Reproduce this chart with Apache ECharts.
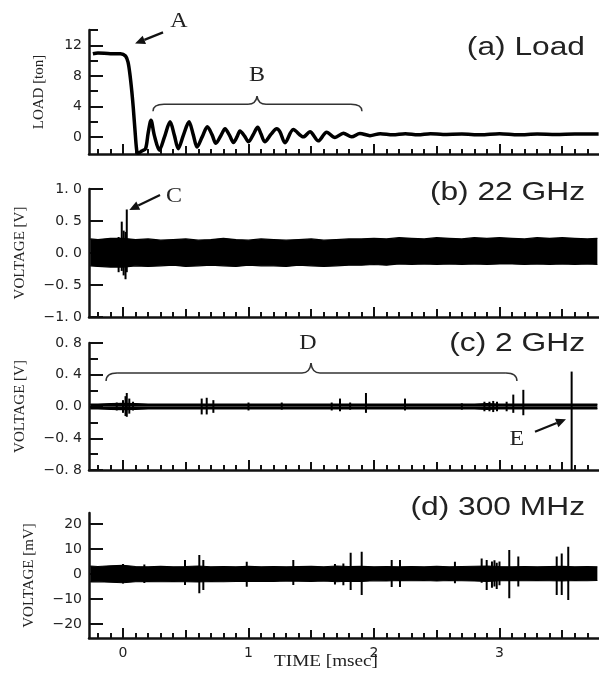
<!DOCTYPE html>
<html>
<head>
<meta charset="utf-8">
<script src="https://cdn.jsdelivr.net/npm/echarts@6/dist/echarts.min.js"></script>
<style>
  html, body { margin: 0; padding: 0; background: #fff; }
  #chart { width: 599px; height: 678px; }
</style>
</head>
<body>
<div id="chart"></div>
<script>
// time axis (msec)
const X_MIN = -0.271;
const X_MAX = 3.793;
const xMajorTicks = [0, 1, 2, 3];
const xHalfTicks = [0.5, 1.5, 2.5, 3.5];

// (a) load [ton]
const loadT = [-0.24, -0.2, -0.1, -0.02, 0.02, 0.04, 0.056, 0.07, 0.082, 0.095, 0.109, 0.12, 0.15, 0.18, 0.2, 0.223, 0.25, 0.29, 0.33, 0.375, 0.41, 0.44, 0.48, 0.526, 0.56, 0.59, 0.63, 0.672, 0.71, 0.74, 0.78, 0.813, 0.85, 0.88, 0.91, 0.932, 0.97, 1.0, 1.04, 1.073, 1.1, 1.13, 1.18, 1.225, 1.251, 1.291, 1.357, 1.437, 1.49, 1.556, 1.623, 1.689, 1.756, 1.822, 1.888, 1.968, 2.05, 2.15, 2.25, 2.35, 2.45, 2.55, 2.7, 2.85, 3.0, 3.15, 3.3, 3.45, 3.6, 3.79];
const loadV = [10.9, 11.0, 10.9, 10.9, 10.6, 9.8, 8.1, 6.0, 3.8, 1.0, -1.7, -2.1, -1.8, -1.5, 0.5, 2.2, 0.2, -1.7, 0.0, 2.0, 0.2, -1.5, 0.2, 2.0, 0.3, -1.3, 0.0, 1.35, 0.3, -0.8, 0.2, 1.1, 0.2, -0.7, 0.1, 0.8, 0.1, -0.6, 0.4, 1.3, 0.4, -0.6, 0.4, 1.1, 0.7, -0.74, 1.0, 0.04, 0.7, -0.48, 0.65, -0.05, 0.52, 0.04, 0.48, 0.2, 0.45, 0.3, 0.45, 0.3, 0.45, 0.35, 0.4, 0.3, 0.45, 0.3, 0.4, 0.35, 0.4, 0.4];

// noise-band envelopes (shared time points)
const envT = [-0.26, -0.2, -0.1, 0, 0.1, 0.2, 0.3, 0.4, 0.5, 0.6, 0.7, 0.8, 0.9, 1.0, 1.1, 1.2, 1.3, 1.4, 1.5, 1.6, 1.7, 1.8, 1.9, 2.0, 2.1, 2.2, 2.3, 2.4, 2.5, 2.6, 2.7, 2.8, 2.9, 3.0, 3.1, 3.2, 3.3, 3.4, 3.5, 3.6, 3.7, 3.78];

// (b) 22 GHz [V]
const ghz22Hi = [0.22, 0.21, 0.23, 0.23, 0.21, 0.22, 0.2, 0.21, 0.22, 0.2, 0.21, 0.23, 0.21, 0.2, 0.22, 0.21, 0.2, 0.21, 0.22, 0.2, 0.21, 0.22, 0.22, 0.23, 0.22, 0.24, 0.23, 0.22, 0.24, 0.23, 0.22, 0.24, 0.23, 0.24, 0.23, 0.22, 0.24, 0.23, 0.24, 0.23, 0.22, 0.23];
const ghz22Lo = [-0.2, -0.21, -0.22, -0.22, -0.2, -0.21, -0.2, -0.19, -0.21, -0.2, -0.19, -0.2, -0.21, -0.19, -0.2, -0.2, -0.21, -0.19, -0.2, -0.21, -0.2, -0.19, -0.19, -0.18, -0.19, -0.17, -0.18, -0.17, -0.18, -0.17, -0.18, -0.17, -0.18, -0.17, -0.17, -0.18, -0.17, -0.18, -0.17, -0.18, -0.17, -0.18];
const ghz22SpikeT = [-0.035, -0.01, 0.005, 0.02, 0.03];
const ghz22SpikeHi = [0.25, 0.49, 0.35, 0.33, 0.68];
const ghz22SpikeLo = [-0.3, -0.28, -0.35, -0.41, -0.3];

// (c) 2 GHz [V]
const ghz2Hi = [0.03, 0.03, 0.035, 0.04, 0.035, 0.03, 0.03, 0.03, 0.03, 0.03, 0.03, 0.03, 0.03, 0.03, 0.03, 0.03, 0.03, 0.03, 0.03, 0.03, 0.03, 0.03, 0.03, 0.03, 0.03, 0.03, 0.03, 0.03, 0.03, 0.03, 0.03, 0.03, 0.035, 0.03, 0.03, 0.03, 0.03, 0.03, 0.03, 0.03, 0.03, 0.03];
const ghz2Lo = [-0.03, -0.03, -0.035, -0.04, -0.035, -0.03, -0.03, -0.03, -0.03, -0.03, -0.03, -0.03, -0.03, -0.03, -0.03, -0.03, -0.03, -0.03, -0.03, -0.03, -0.03, -0.03, -0.03, -0.03, -0.03, -0.03, -0.03, -0.03, -0.03, -0.03, -0.03, -0.03, -0.035, -0.03, -0.03, -0.03, -0.03, -0.03, -0.03, -0.03, -0.03, -0.03];
const ghz2SpikeT = [-0.05, 0.0, 0.02, 0.03, 0.05, 0.08, 0.627, 0.667, 0.72, 1.0, 1.265, 1.663, 1.729, 1.81, 1.936, 2.247, 2.7, 2.88, 2.92, 2.95, 2.98, 3.057, 3.11, 3.19, 3.575];
const ghz2SpikeHi = [0.05, 0.08, 0.13, 0.17, 0.1, 0.06, 0.1, 0.11, 0.08, 0.05, 0.05, 0.05, 0.1, 0.05, 0.17, 0.1, 0.04, 0.06, 0.06, 0.07, 0.06, 0.06, 0.15, 0.21, 0.44];
const ghz2SpikeLo = [-0.05, -0.08, -0.12, -0.13, -0.09, -0.05, -0.1, -0.1, -0.08, -0.05, -0.04, -0.05, -0.06, -0.04, -0.08, -0.05, -0.04, -0.06, -0.06, -0.07, -0.06, -0.06, -0.08, -0.11, -0.8];

// (d) 300 MHz [mV]
const mhzHi = [3.2, 3.0, 3.3, 3.5, 3.0, 2.9, 3.1, 2.9, 3.0, 3.2, 2.9, 3.0, 2.9, 3.1, 2.9, 3.0, 2.9, 3.0, 3.1, 2.9, 3.2, 3.0, 3.1, 2.9, 3.0, 2.9, 3.0, 2.9, 3.1, 2.9, 3.0, 3.1, 3.2, 3.0, 2.9, 3.0, 2.9, 3.0, 3.1, 2.9, 3.0, 2.9];
const mhzLo = [-3.2, -3.1, -3.3, -3.5, -3.1, -3.0, -3.1, -3.0, -3.1, -3.2, -3.0, -3.1, -3.0, -3.0, -2.9, -3.0, -2.8, -2.9, -3.0, -2.8, -3.1, -2.9, -3.0, -2.7, -2.8, -2.6, -2.7, -2.6, -2.8, -2.6, -2.7, -2.8, -3.0, -2.7, -2.6, -2.7, -2.6, -2.7, -2.8, -2.6, -2.7, -2.6];
const mhzSpikeT = [0.0, 0.17, 0.494, 0.608, 0.64, 0.986, 1.357, 1.689, 1.756, 1.814, 1.902, 2.141, 2.207, 2.645, 2.858, 2.898, 2.94, 2.96, 2.978, 3.0, 3.078, 3.15, 3.456, 3.496, 3.548];
const mhzSpikeHi = [4, 3.8, 5.6, 7.6, 5.6, 4.9, 5.6, 4, 4.2, 8.5, 8.9, 5.6, 5.6, 4.9, 6.2, 5.6, 5, 5.5, 4.5, 5, 9.6, 7, 7, 8.2, 10.9];
const mhzSpikeLo = [-3.8, -3.6, -4.4, -7.7, -6.4, -5.1, -4.4, -4.2, -4.5, -6.4, -8.4, -5.2, -5.2, -3.7, -3.5, -6.4, -5.5, -5, -6, -4.5, -9.7, -5, -8.4, -8.4, -10.4];

// y-axis ticks per panel
const yLongTicks = [[0, 4, 8, 12], [-1, -0.5, 0, 0.5, 1], [-0.8, -0.4, 0, 0.4, 0.8], [-20, -10, 0, 10, 20]];
const yShortTicks = [[2, 6, 10, 14], [], [-0.6, -0.2, 0.2, 0.6], []];
const yRanges = [[-2.2, 14], [-1, 1], [-0.8, 0.8], [-25.6, 24.4]];
const yNames = ["LOAD [ton]", "VOLTAGE [V]", "VOLTAGE [V]", "VOLTAGE [mV]"];
const panelTitles = ["(a) Load", "(b) 22 GHz", "(c) 2 GHz", "(d) 300 MHz"];

const xMinorTicks = [];
for (let i = -2; i <= 37; i++) if (i % 5 !== 0) xMinorTicks.push(i / 10);

const zip = (...cols) => cols[0].map((_, i) => cols.map((c) => c[i]));
const INK = "#111";
const LABEL_FONT = "DejaVu Sans";
const SERIF = "Liberation Serif";

const grids = [
  { left: 89, right: 0, top: 30, height: 124 },
  { left: 89, right: 0, top: 189, height: 128 },
  { left: 89, right: 0, top: 343, height: 127 },
  { left: 89, right: 0, top: 513, height: 125 },
];
const nameGaps = [42, 61, 61, 52];

const fmtY = [
  (v) => String(v),
  (v) => (v < 0 ? "\u2212" : "") + Math.abs(v).toFixed(1).replace(".", ". "),
  (v) => (v < 0 ? "\u2212" : "") + Math.abs(v).toFixed(1).replace(".", ". "),
  (v) => (v < 0 ? "\u2212" : "") + Math.abs(v),
];

const xAxes = [];
const yAxes = [];
grids.forEach((g, gi) => {
  const base = { gridIndex: gi, type: "value", position: "bottom", min: X_MIN, max: X_MAX, splitLine: { show: false } };
  xAxes.push({
    ...base,
    axisLine: { show: true, onZero: false, lineStyle: { color: INK, width: 2.5 } },
    axisTick: { inside: true, length: 10, customValues: xMajorTicks, lineStyle: { color: INK, width: 2 } },
    axisLabel: { show: gi === 3, customValues: xMajorTicks, margin: 8, color: "#222", fontFamily: LABEL_FONT, fontSize: 14 },
  });
  xAxes.push({
    ...base,
    axisLine: { show: false, onZero: false },
    axisTick: { inside: true, length: 8, customValues: xHalfTicks, lineStyle: { color: INK, width: 2 } },
    axisLabel: { show: false },
  });
  xAxes.push({
    ...base,
    axisLine: { show: false, onZero: false },
    axisTick: { inside: true, length: 5, customValues: xMinorTicks, lineStyle: { color: INK, width: 2 } },
    axisLabel: { show: false },
  });
  const ybase = { gridIndex: gi, type: "value", position: "left", min: yRanges[gi][0], max: yRanges[gi][1], splitLine: { show: false } };
  yAxes.push({
    ...ybase,
    name: yNames[gi],
    nameLocation: "middle",
    nameGap: nameGaps[gi],
    nameTextStyle: { fontFamily: SERIF, fontSize: 15, color: "#222" },
    axisLine: { show: true, onZero: false, lineStyle: { color: INK, width: 2.5 } },
    axisTick: { inside: true, length: 14, customValues: yLongTicks[gi], lineStyle: { color: INK, width: 2 } },
    axisLabel: { customValues: yLongTicks[gi], formatter: fmtY[gi], margin: 7, color: "#222", fontFamily: LABEL_FONT, fontSize: 14 },
  });
  yAxes.push({
    ...ybase,
    axisLine: { show: false, onZero: false },
    axisTick: { show: yShortTicks[gi].length > 0, inside: true, length: 9, customValues: yShortTicks[gi].length ? yShortTicks[gi] : [0], lineStyle: { color: INK, width: 2 } },
    axisLabel: { show: false },
  });
});

function bandSeries(gi, hi, lo) {
  return [hi, lo].map((vals) => ({
    type: "line",
    xAxisIndex: gi * 3,
    yAxisIndex: gi * 2,
    data: zip(envT, vals),
    symbol: "none",
    lineStyle: { color: "#000", width: 1.2 },
    areaStyle: { color: "#000", opacity: 1 },
    silent: true,
  }));
}

function spikeSeries(gi, t, lo, hi) {
  return {
    type: "custom",
    xAxisIndex: gi * 3,
    yAxisIndex: gi * 2,
    data: zip(t, lo, hi),
    encode: { x: 0, y: [1, 2] },
    renderItem: (params, api) => {
      const a = api.coord([api.value(0), api.value(1)]);
      const b = api.coord([api.value(0), api.value(2)]);
      return {
        type: "line",
        shape: { x1: a[0], y1: a[1], x2: b[0], y2: b[1] },
        style: { stroke: "#000", lineWidth: 2 },
      };
    },
    z: 3,
  };
}

const series = [
  {
    type: "line",
    xAxisIndex: 0,
    yAxisIndex: 0,
    data: zip(loadT, loadV),
    symbol: "none",
    smooth: 0.3,
    lineStyle: { color: "#000", width: 3.5 },
  },
  ...bandSeries(1, ghz22Hi, ghz22Lo),
  spikeSeries(1, ghz22SpikeT, ghz22SpikeLo, ghz22SpikeHi),
  ...bandSeries(2, ghz2Hi, ghz2Lo),
  spikeSeries(2, ghz2SpikeT, ghz2SpikeLo, ghz2SpikeHi),
  ...bandSeries(3, mhzHi, mhzLo),
  spikeSeries(3, mhzSpikeT, mhzSpikeLo, mhzSpikeHi),
];

const chart = echarts.init(document.getElementById("chart"), null, { renderer: "canvas" });
chart.setOption({
  animation: false,
  backgroundColor: "#fff",
  grid: grids,
  xAxis: xAxes,
  yAxis: yAxes,
  series,
});

// annotations, in data coordinates of each panel
const labels = [
  { gi: 0, text: "A", at: [0.446, 15.03] },
  { gi: 0, text: "B", at: [1.068, 8.08] },
  { gi: 1, text: "C", at: [0.406, 0.875] },
  { gi: 2, text: "D", at: [1.474, 0.787] },
  { gi: 2, text: "E", at: [3.139, -0.422] },
];
const arrows = [
  { gi: 0, from: [0.319, 13.69], to: [0.096, 12.22] },
  { gi: 1, from: [0.295, 0.906], to: [0.05, 0.672] },
  { gi: 2, from: [3.283, -0.317], to: [3.53, -0.162] },
];
const braces = [
  { gi: 0, x0: 0.239, x1: 1.904, xc: 1.068, yLine: 4.3, yEnd: 3.39, yTip: 5.35 },
  { gi: 2, x0: -0.135, x1: 3.139, xc: 1.498, yLine: 0.422, yEnd: 0.321, yTip: 0.548 },
];
const titleY = [47.5, 193, 344, 508];

const toPx = (gi, p) => chart.convertToPixel({ xAxisIndex: gi * 3, yAxisIndex: gi * 2 }, p);
const graphics = [];

panelTitles.forEach((t, i) => {
  graphics.push({
    type: "text", x: 585, y: titleY[i], scaleX: 1.22,
    style: { text: t, align: "right", verticalAlign: "middle", fontFamily: "Liberation Sans", fontSize: 26, fill: "#222" },
  });
});

labels.forEach((l) => {
  const p = toPx(l.gi, l.at);
  graphics.push({
    type: "text", x: p[0], y: p[1], scaleX: 1.2,
    style: { text: l.text, align: "center", verticalAlign: "middle", fontFamily: SERIF, fontSize: 20, fill: "#222" },
  });
});

arrows.forEach((a) => {
  const f = toPx(a.gi, a.from);
  const t = toPx(a.gi, a.to);
  const ang = Math.atan2(t[1] - f[1], t[0] - f[0]);
  const hl = 10, hw = 4.5;
  const bx = t[0] - hl * Math.cos(ang), by = t[1] - hl * Math.sin(ang);
  const nx = -Math.sin(ang) * hw, ny = Math.cos(ang) * hw;
  graphics.push({ type: "line", shape: { x1: f[0], y1: f[1], x2: bx, y2: by }, style: { stroke: "#111", lineWidth: 2.2 } });
  graphics.push({ type: "polygon", shape: { points: [[t[0], t[1]], [bx + nx, by + ny], [bx - nx, by - ny]] }, style: { fill: "#111" } });
});

const braceStyle = { fill: null, stroke: "#333", lineWidth: 1.5 };
const curve = (x1, y1, cx, cy, x2, y2) => ({ type: "bezierCurve", shape: { x1, y1, cpx1: cx, cpy1: cy, x2, y2 }, style: braceStyle });
braces.forEach((b) => {
  const L = toPx(b.gi, [b.x0, b.yEnd]);
  const R = toPx(b.gi, [b.x1, b.yEnd]);
  const C = toPx(b.gi, [b.xc, b.yTip]);
  const yl = toPx(b.gi, [b.xc, b.yLine])[1];
  graphics.push(curve(L[0], L[1], L[0], yl, L[0] + 11, yl));
  graphics.push({ type: "line", shape: { x1: L[0] + 11, y1: yl, x2: C[0] - 9, y2: yl }, style: braceStyle });
  graphics.push(curve(C[0] - 9, yl, C[0] - 1, yl, C[0], C[1]));
  graphics.push(curve(C[0], C[1], C[0] + 1, yl, C[0] + 9, yl));
  graphics.push({ type: "line", shape: { x1: C[0] + 9, y1: yl, x2: R[0] - 11, y2: yl }, style: braceStyle });
  graphics.push(curve(R[0] - 11, yl, R[0], yl, R[0], R[1]));
});

graphics.push({
  type: "text", x: 326, y: 662, scaleX: 1.2,
  style: { text: "TIME [msec]", align: "center", verticalAlign: "middle", fontFamily: SERIF, fontSize: 16, fill: "#222" },
});

chart.setOption({ graphic: graphics });
</script>
</body>
</html>
